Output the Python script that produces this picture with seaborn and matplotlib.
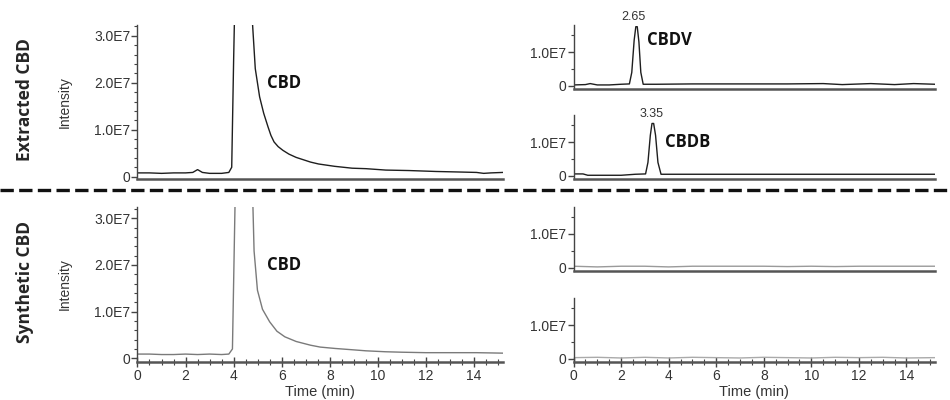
import matplotlib
matplotlib.use('Agg')
import matplotlib.pyplot as plt
import seaborn as sns
from matplotlib.lines import Line2D
from matplotlib.ticker import MultipleLocator

# ── DATA (intensity in units of 1E7) ─────────────────────────
t_cbd_ext = [0, 0.5, 1.0, 1.5, 2.0, 2.3, 2.5, 2.7, 3.0, 3.5, 3.8, 3.92, 4.0, 4.08, 4.4,
             4.72, 4.78, 4.9, 5.08, 5.25, 5.43, 5.55, 5.68, 5.85, 6.05, 6.3, 6.6, 6.9, 7.2, 7.53,
             8.2, 8.93, 9.5, 10.33, 11.3, 12.43, 13.3, 14.1, 14.4, 14.7, 15.2]
i_cbd_ext = [0.08, 0.08, 0.07, 0.08, 0.08, 0.09, 0.15, 0.09, 0.07, 0.07, 0.09, 0.2, 2.5, 4.5, 8.0,
             4.5, 3.3, 2.3, 1.7, 1.35, 1.06, 0.88, 0.74, 0.64, 0.56, 0.48, 0.41, 0.36, 0.31, 0.27,
             0.22, 0.18, 0.17, 0.14, 0.13, 0.11, 0.1, 0.09, 0.07, 0.08, 0.09]

t_cbd_syn = [0, 0.5, 1.0, 1.5, 2.0, 2.5, 3.0, 3.5, 3.8, 3.95, 4.03, 4.1, 4.4, 4.74,
             4.8, 4.85, 4.99, 5.2, 5.5, 5.8, 6.13, 6.6, 7.2, 7.6, 8.23, 9.0, 9.5,
             10.3, 11.0, 12.0, 13.0, 14.1, 15.2]
i_cbd_syn = [0.09, 0.09, 0.08, 0.08, 0.09, 0.08, 0.09, 0.08, 0.09, 0.2, 2.5, 4.5, 8.0, 4.5,
             3.3, 2.3, 1.46, 1.05, 0.78, 0.58, 0.46, 0.36, 0.28, 0.24, 0.21, 0.18, 0.16,
             0.14, 0.13, 0.12, 0.12, 0.12, 0.11]

t_cbdv = [0, 0.5, 0.7, 1.0, 1.5, 2.0, 2.35, 2.45, 2.55, 2.62, 2.68, 2.75, 2.83, 2.93,
          3.5, 5.0, 7.0, 9.0, 10.5, 11.3, 12.5, 13.5, 14.3, 15.2]
i_cbdv = [0.03, 0.04, 0.07, 0.03, 0.03, 0.05, 0.06, 0.4, 1.35, 1.75, 1.75, 1.3, 0.4, 0.05,
          0.05, 0.06, 0.06, 0.06, 0.07, 0.04, 0.07, 0.04, 0.07, 0.05]

t_cbdb = [0, 0.4, 0.6, 1.0, 2.0, 2.6, 3.03, 3.13, 3.23, 3.3, 3.37, 3.45, 3.55, 3.68,
          4.5, 6.0, 8.0, 10.0, 12.0, 14.0, 15.2]
i_cbdb = [0.06, 0.06, 0.02, 0.02, 0.02, 0.05, 0.06, 0.4, 1.2, 1.55, 1.55, 1.2, 0.4, 0.05,
          0.05, 0.05, 0.05, 0.05, 0.05, 0.05, 0.05]

t_blank = [0, 1, 2, 3, 4, 5, 6, 7, 8, 9, 10, 11, 12, 13, 14, 15.2]
i_blank_v = [0.05, 0.03, 0.05, 0.05, 0.03, 0.05, 0.05, 0.05, 0.05, 0.04, 0.05, 0.04, 0.05, 0.05, 0.05, 0.05]
i_blank_b = [0.03, 0.04, 0.02, 0.04, 0.02, 0.04, 0.03, 0.02, 0.04, 0.03, 0.02, 0.04, 0.03, 0.04, 0.02, 0.03]

left_yticks = [0, 1, 2, 3]
left_yticklabels = ['0', '1.0E7', '2.0E7', '3.0E7']
right_yticks = [0, 1]
right_yticklabels = ['0', '1.0E7']
xticks = [0, 2, 4, 6, 8, 10, 12, 14]
row_labels = ['Extracted CBD', 'Synthetic CBD']

# ── STYLE ────────────────────────────────────────────────────
sns.set_style('ticks')
plt.rcParams['font.family'] = ['Liberation Sans', 'DejaVu Sans']
plt.rcParams['axes.edgecolor'] = '#444444'
plt.rcParams['xtick.color'] = '#444444'
plt.rcParams['ytick.color'] = '#444444'

fig = plt.figure(figsize=(9.5, 4), dpi=100)

XL, XW = 0.1447, 0.3847
XR, XRW = 0.6037, 0.3805
ax_lt = fig.add_axes([XL, 0.5525, XW, 0.385])
ax_lb = fig.add_axes([XL, 0.0958, XW, 0.3875])
ax_r1 = fig.add_axes([XR, 0.7775, XRW, 0.16])
ax_r2 = fig.add_axes([XR, 0.5525, XRW, 0.16])
ax_r3 = fig.add_axes([XR, 0.3225, XRW, 0.161])
ax_r4 = fig.add_axes([XR, 0.0958, XRW, 0.159])

dark, grey = '#1e1e1e', '#7a7a7a'
sns.lineplot(x=t_cbd_ext, y=i_cbd_ext, ax=ax_lt, color=dark, lw=1.0)
sns.lineplot(x=t_cbd_syn, y=i_cbd_syn, ax=ax_lb, color=grey, lw=1.0)
sns.lineplot(x=t_cbdv, y=i_cbdv, ax=ax_r1, color=dark, lw=1.0)
sns.lineplot(x=t_cbdb, y=i_cbdb, ax=ax_r2, color=dark, lw=1.0)
sns.lineplot(x=t_blank, y=i_blank_v, ax=ax_r3, color='#9a9a9a', lw=1.0)
sns.lineplot(x=t_blank, y=i_blank_b, ax=ax_r4, color='#aaaaaa', lw=1.0)

for ax in [ax_lt, ax_lb, ax_r1, ax_r2, ax_r3, ax_r4]:
    ax.set_xlim(0, 15.2)
    for s in ['top', 'right']:
        ax.spines[s].set_visible(False)
    ax.spines['left'].set_linewidth(1.0)
    ax.spines['bottom'].set_linewidth(1.8)
    ax.spines['bottom'].set_color('#555555')
    ax.tick_params(axis='y', which='major', length=4, width=1, labelsize=10, pad=1)
    ax.tick_params(axis='y', which='minor', length=2, width=0.8)
    ax.tick_params(axis='y', labelcolor='#333333')
    ax.set_xlabel('')
    ax.set_ylabel('')

for ax, lo, hi in [(ax_lt, -0.05, 3.23), (ax_lb, -0.073, 3.25)]:
    ax.set_ylim(lo, hi)
    ax.set_yticks(left_yticks)
    ax.set_yticklabels(left_yticklabels)
    ax.yaxis.set_minor_locator(MultipleLocator(0.2))
    ax.set_ylabel('Intensity', fontsize=10, color='#333333', labelpad=16)

for ax in [ax_r1, ax_r2, ax_r3, ax_r4]:
    ax.set_ylim(-0.09, 1.8)
    ax.set_yticks(right_yticks)
    ax.set_yticklabels(right_yticklabels)
    ax.yaxis.set_minor_locator(MultipleLocator(0.5))

for ax in [ax_lt, ax_r1, ax_r2, ax_r3]:
    ax.set_xticks([])

for ax in [ax_lb, ax_r4]:
    ax.set_xticks(xticks)
    ax.xaxis.set_minor_locator(MultipleLocator(0.5))
    ax.tick_params(axis='x', which='major', direction='inout', length=7, width=1,
                   labelsize=10, labelcolor='#333333', pad=2)
    ax.tick_params(axis='x', which='minor', direction='inout', length=4, width=0.8)
    ax.set_xlabel('Time (min)', fontsize=10.5, color='#333333', labelpad=1)

# peak annotations
bold = dict(fontsize=12, fontweight='bold', family=['Open Sans', 'DejaVu Sans'], color='#111111')
ax_lt.text(5.4, 2.0, 'CBD', va='center', ha='left', **bold)
ax_lb.text(5.4, 2.0, 'CBD', va='center', ha='left', **bold)
ax_r1.text(3.08, 1.37, 'CBDV', va='center', ha='left', **bold)
ax_r2.text(3.84, 1.0, 'CBDB', va='center', ha='left', **bold)
ax_r1.text(2.5, 2.04, '2.65', va='center', ha='center', fontsize=9, color='#333333', clip_on=False)
ax_r2.text(3.3, 1.83, '3.35', va='center', ha='center', fontsize=9, color='#333333', clip_on=False)

# row labels
fig.text(0.026, 1 - 100 / 400, row_labels[0], rotation=90, va='center', ha='center',
         fontsize=12.5, fontweight='bold', family=['Open Sans', 'DejaVu Sans'])
fig.text(0.026, 1 - 282 / 400, row_labels[1], rotation=90, va='center', ha='center',
         fontsize=12.5, fontweight='bold', family=['Open Sans', 'DejaVu Sans'])

# dashed divider between the two samples
fig.add_artist(Line2D([0, 1], [1 - 190 / 400, 1 - 190 / 400], transform=fig.transFigure,
                      color='#111111', lw=2.4, dashes=(4, 1.6)))

plt.savefig('out.png', dpi=100)
